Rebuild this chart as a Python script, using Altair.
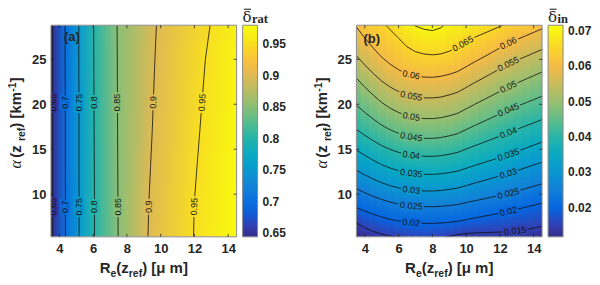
import altair as alt
import pandas as pd

# ---------------- colour map (MATLAB parula, 17 samples) ----------------
PARULA = ["#352a87", "#3243ba", "#0363e1", "#0d75dc", "#1485d4", "#0998d1",
          "#06a7c6", "#15b1b4", "#38b99e", "#65be86", "#92bf73", "#b7bd64",
          "#d9ba56", "#f8bb44", "#fcce2e", "#f5eb18", "#f9fb0e"]

# ---------------- shared axes ----------------
X_DOMAIN = [3.5, 14.5]
Y_DOMAIN = [5.25, 28.8]
X_TICKS = [4, 6, 8, 10, 12, 14]
Y_TICKS = [10, 15, 20, 25]

# ---------------- panel (a): delta_rat ----------------
A_RANGE = [0.644, 0.9805]
A_CB_TICKS = [0.65, 0.7, 0.75, 0.8, 0.85, 0.9, 0.95]
A_LEVELS = [0.65, 0.7, 0.75, 0.8, 0.85, 0.9, 0.95]
A_ROWS_Y = [5.25, 9, 13, 17, 21, 25, 28.8]
A_LINE_X = {
    0.65: [3.60, 3.60, 3.60, 3.60, 3.60, 3.60, 3.60],
    0.7:  [4.36, 4.36, 4.35, 4.35, 4.35, 4.34, 4.34],
    0.75: [5.17, 5.17, 5.16, 5.16, 5.16, 5.15, 5.15],
    0.8:  [6.08, 6.08, 6.07, 6.06, 6.05, 6.04, 6.03],
    0.85: [7.48, 7.47, 7.46, 7.45, 7.44, 7.43, 7.42],
    0.9:  [9.25, 9.30, 9.40, 9.50, 9.58, 9.66, 9.75],
    0.95: [11.95, 11.99, 12.15, 12.32, 12.48, 12.65, 12.93],
}
A_LEFT_EDGE = [0.645, 0.645, 0.645, 0.645, 0.645, 0.645, 0.645]
A_RIGHT_EDGE = [0.980, 0.979, 0.978, 0.976, 0.974, 0.972, 0.968]
A_LABELS = [  # level, x, y, angle
    (0.65, 3.60, 8.6, 270), (0.65, 3.60, 20.2, 270),
    (0.7, 4.36, 8.6, 270), (0.7, 4.35, 20.2, 270),
    (0.75, 5.17, 8.6, 270), (0.75, 5.16, 20.2, 270),
    (0.8, 6.08, 8.6, 270), (0.8, 6.05, 20.2, 270),
    (0.85, 7.47, 8.6, 270), (0.85, 7.44, 20.2, 270),
    (0.9, 9.30, 8.6, 271), (0.9, 9.56, 20.2, 272),
    (0.95, 11.98, 8.6, 272), (0.95, 12.45, 20.2, 274),
]

# ---------------- panel (b): delta_in ----------------
B_RANGE = [0.0118, 0.0716]
B_CB_TICKS = [0.02, 0.03, 0.04, 0.05, 0.06, 0.07]
B_COLS_X = [3.5, 4.0, 4.5, 5.0, 5.5, 6.0, 6.5, 7.0, 7.5, 8.0, 8.5, 9.0,
            9.5, 10.0, 10.5, 11.0, 11.5, 12.0, 12.5, 13.0, 13.5, 14.0, 14.5]
N = None
B_LINES = [  # level, contour height at each column of B_COLS_X
    (0.015, [6.8, 6.25, 5.85, 5.55, 5.35, 5.15, N, N, N, N, 5.05, 5.3,
             5.5, 5.62, 5.68, 5.72, 5.75, 5.78, 5.83, 5.92, 6.05, 6.22, 6.42]),
    (0.02, [8.5, 8.12, 7.77, 7.45, 7.2, 7.01, 6.87, 6.8, 6.76, 6.75, 6.79, 6.87,
            6.98, 7.16, 7.35, 7.53, 7.71, 7.89, 8.08, 8.31, 8.54, 8.77, 9.0]),
    (0.025, [10.6, 10.16, 9.76, 9.4, 9.12, 8.9, 8.74, 8.66, 8.61, 8.6, 8.64, 8.73,
             8.85, 9.06, 9.26, 9.46, 9.66, 9.86, 10.07, 10.34, 10.61, 10.88, 11.15]),
    (0.03, [12.65, 12.14, 11.68, 11.27, 10.95, 10.7, 10.51, 10.42, 10.36, 10.35, 10.41, 10.53,
            10.68, 10.95, 11.23, 11.49, 11.75, 12.03, 12.3, 12.61, 12.93, 13.24, 13.55]),
    (0.035, [14.9, 14.31, 13.77, 13.28, 12.9, 12.61, 12.39, 12.28, 12.21, 12.2, 12.27, 12.4,
             12.57, 12.88, 13.19, 13.48, 13.78, 14.08, 14.39, 14.74, 15.1, 15.45, 15.8]),
    (0.04, [17.2, 16.54, 15.94, 15.4, 14.98, 14.65, 14.41, 14.29, 14.22, 14.2, 14.28, 14.44,
            14.65, 15.02, 15.38, 15.74, 16.09, 16.46, 16.83, 17.2, 17.57, 17.93, 18.3]),
    (0.045, [19.9, 19.09, 18.35, 17.68, 17.16, 16.76, 16.46, 16.31, 16.22, 16.2, 16.3, 16.49,
             16.74, 17.19, 17.63, 18.06, 18.49, 18.93, 19.38, 19.76, 20.14, 20.52, 20.9]),
    (0.05, [22.9, 21.91, 21.01, 20.2, 19.57, 19.08, 18.72, 18.54, 18.42, 18.4, 18.51, 18.72,
            19.0, 19.49, 19.99, 20.47, 20.94, 21.44, 21.93, 22.35, 22.77, 23.18, 23.6]),
    (0.055, [25.4, 24.37, 23.43, 22.58, 21.92, 21.41, 21.03, 20.84, 20.72, 20.7, 20.81, 21.04,
             21.34, 21.87, 22.4, 22.91, 23.42, 23.95, 24.48, 24.89, 25.29, 25.7, 26.1]),
    (0.06, [28.6, 27.37, 26.25, 25.24, 24.46, 23.84, 23.39, 23.17, 23.03, 23.0, 23.11, 23.34,
            23.65, 24.18, 24.71, 25.22, 25.74, 26.27, 26.8, 27.2, 27.6, 28.0, 28.4]),
    (0.065, [N, N, N, 29.3, 28.3, 27.35, 26.4, 25.85, 25.6, 25.5, 25.6, 25.9,
             26.35, 27.0, 27.45, 27.85, 28.25, 28.65, 29.1, N, N, N, N]),
    (0.07, [N, N, N, N, N, N, 29.5, 28.7, 28.35, 28.2, 28.5, 29.3,
            N, N, N, N, N, N, N, N, N, N, N]),
]
B_BOTTOM = [0.0119, 0.0128, 0.0136, 0.0142, 0.0147, 0.0152, 0.0157, 0.0160, 0.0162, 0.0161,
            0.0154, 0.0148, 0.0143, 0.0141, 0.0140, 0.0139, 0.0138, 0.0137, 0.0136, 0.0134,
            0.0131, 0.0128, 0.0125]
B_TOP = [0.0603, 0.0623, 0.0640, 0.0646, 0.0655, 0.0670, 0.0689, 0.0701, 0.0709, 0.0714,
         0.0704, 0.0693, 0.0685, 0.0678, 0.0672, 0.0667, 0.0660, 0.0653, 0.0643, 0.0635,
         0.0626, 0.0617, 0.0609]
B_LABELS = [  # level, x, y, angle
    (0.02, 6.75, 6.83, 4), (0.025, 6.75, 8.70, 5), (0.03, 6.75, 10.46, 6),
    (0.035, 6.75, 12.33, 7), (0.04, 6.75, 14.35, 7), (0.045, 6.75, 16.38, 9),
    (0.05, 6.75, 18.63, 10), (0.055, 6.75, 20.93, 11), (0.06, 6.75, 23.28, 12),
    (0.015, 12.9, 5.90, 354), (0.02, 12.5, 8.08, 347), (0.025, 12.5, 10.07, 346),
    (0.03, 12.5, 12.30, 343), (0.035, 12.5, 14.39, 341), (0.04, 12.5, 16.83, 339),
    (0.045, 12.5, 19.38, 337), (0.05, 12.5, 21.93, 335), (0.055, 12.5, 24.48, 334),
    (0.06, 12.5, 26.80, 334), (0.065, 9.8, 26.74, 331),
]

# ---------------- styling ----------------
W, H = 186, 212
SANS = "Liberation Sans"
SERIF = "Liberation Serif"
INK = "#262626"
FRAME = "#8a8a8a"


def hex_rgb(h):
    return tuple(int(h[i:i + 2], 16) for i in (1, 3, 5))


PAR_RGB = [hex_rgb(h) for h in PARULA]


def cmap(v, rng):
    t = min(max((v - rng[0]) / (rng[1] - rng[0]), 0.0), 1.0)
    s = t * (len(PAR_RGB) - 1)
    i = min(int(s), len(PAR_RGB) - 2)
    f = s - i
    c = [round(PAR_RGB[i][k] + (PAR_RGB[i + 1][k] - PAR_RGB[i][k]) * f) for k in range(3)]
    return "#%02x%02x%02x" % tuple(c)


X_AXIS = alt.Axis(values=X_TICKS, labelFont=SANS, labelFontSize=13, labelFontWeight="bold",
                  labelColor=INK, ticks=False, domain=False, grid=False, labelPadding=6)
Y_AXIS = alt.Axis(values=Y_TICKS, labelFont=SANS, labelFontSize=13, labelFontWeight="bold",
                  labelColor=INK, ticks=False, domain=False, grid=False, labelPadding=5)


def xenc(f):
    return alt.X(f"{f}:Q", scale=alt.Scale(domain=X_DOMAIN, nice=False, zero=False),
                 axis=X_AXIS, title=None)


def yenc(f):
    return alt.Y(f"{f}:Q", scale=alt.Scale(domain=Y_DOMAIN, nice=False, zero=False),
                 axis=Y_AXIS, title=None)


def rect_layer(x0, x1, y0, y1, grad):
    d = pd.DataFrame({"xa": [x0], "xb": [x1], "ya": [y0], "yb": [y1]})
    return alt.Chart(d).mark_rect(fill=grad, strokeWidth=0, clip=True).encode(
        x=xenc("xa"), x2=alt.X2("xb"), y=yenc("ya"), y2=alt.Y2("yb"))


def a_fill():
    layers = []
    n = len(A_ROWS_Y)
    span = X_DOMAIN[1] - X_DOMAIN[0]
    for i, yc in enumerate(A_ROWS_Y):
        y0 = Y_DOMAIN[0] if i == 0 else (A_ROWS_Y[i - 1] + yc) / 2
        y1 = Y_DOMAIN[1] if i == n - 1 else min((yc + A_ROWS_Y[i + 1]) / 2 + 0.15, Y_DOMAIN[1])
        pts = [(X_DOMAIN[0], A_LEFT_EDGE[i])]
        pts += [(A_LINE_X[lev][i], lev) for lev in A_LEVELS]
        pts.append((X_DOMAIN[1], A_RIGHT_EDGE[i]))
        pts.sort()
        stops = [alt.GradientStop(offset=(x - X_DOMAIN[0]) / span, color=cmap(v, A_RANGE))
                 for x, v in pts]
        grad = alt.LinearGradient(gradient="linear", stops=stops, x1=0, x2=1, y1=0, y2=0)
        layers.append(rect_layer(X_DOMAIN[0], X_DOMAIN[1], y0, y1, grad))
    return layers


def b_fill():
    layers = []
    n = len(B_COLS_X)
    span = Y_DOMAIN[1] - Y_DOMAIN[0]
    for i, xc in enumerate(B_COLS_X):
        x0 = X_DOMAIN[0] if i == 0 else (B_COLS_X[i - 1] + xc) / 2
        x1 = X_DOMAIN[1] if i == n - 1 else (xc + B_COLS_X[i + 1]) / 2 + 0.06
        pts = [(Y_DOMAIN[0], B_BOTTOM[i])]
        for lev, ys in B_LINES:
            y = ys[i]
            if y is not None and Y_DOMAIN[0] < y < Y_DOMAIN[1]:
                pts.append((y, lev))
        pts.append((Y_DOMAIN[1], B_TOP[i]))
        pts.sort()
        stops = [alt.GradientStop(offset=(y - Y_DOMAIN[0]) / span, color=cmap(v, B_RANGE))
                 for y, v in pts]
        grad = alt.LinearGradient(gradient="linear", stops=stops, x1=0, x2=0, y1=1, y2=0)
        layers.append(rect_layer(x0, x1, Y_DOMAIN[0], Y_DOMAIN[1], grad))
    return layers


def a_lines_df():
    rows = []
    for lev in A_LEVELS:
        for i, y in enumerate(A_ROWS_Y):
            rows.append({"x": A_LINE_X[lev][i], "y": y, "seg": str(lev), "ord": i})
    return pd.DataFrame(rows)


def b_lines_df():
    rows = []
    seg = 0
    for lev, ys in B_LINES:
        seg += 1
        prev = False
        for i, y in enumerate(ys):
            if y is None:
                if prev:
                    seg += 1
                prev = False
                continue
            rows.append({"x": B_COLS_X[i], "y": y, "seg": f"s{seg}", "ord": i})
            prev = True
    return pd.DataFrame(rows)


def labels_df(labels):
    return pd.DataFrame([{"lev": lev, "x": x, "y": y, "ang": a, "txt": f"{lev:g}"}
                         for lev, x, y, a in labels])


BOLD_W = {'R': .722, 'e': .556, '(': .333, 'z': .5, 'r': .389, 'f': .333, ')': .333,
          ' ': .278, '[': .333, 'μ': .611, 'm': .889, ']': .333, 'k': .556, '-': .333,
          '1': .556, 'α': .68}


def tw(s, size):
    return sum(BOLD_W.get(c, .55) for c in s) * size


def txt(s, x, y, size, font=SANS, weight="normal", style="normal", angle=0):
    kw = dict(font=font, fontSize=size, fontWeight=weight, fontStyle=style,
              align="left", baseline="alphabetic", color=INK)
    if angle:
        kw["angle"] = angle
    return alt.Chart(pd.DataFrame({"t": [s]})).mark_text(**kw).encode(
        x=alt.value(x), y=alt.value(y), text="t:N")


def axis_titles():
    out = []
    # x title  R_e(z_ref) [μ m]
    parts = [("R", 15, 0), ("e", 10.5, 4), ("(z", 15, 0), ("ref", 10.5, 4), (") [μ m]", 15, 0)]
    total = sum(tw(s, fs) for s, fs, _ in parts)
    cx = W / 2 - total / 2
    for s, fs, dy in parts:
        out.append(txt(s, cx, H + 36 + dy, fs, weight="bold"))
        cx += tw(s, fs)
    # y title  α (z_ref) [km^-1]  (rotated)
    parts = [("α", 16, 0, SERIF, "italic", "normal"), (" (z", 15, 0, SANS, "normal", "bold"),
             ("ref", 10.5, 4, SANS, "normal", "bold"), (") [km", 15, 0, SANS, "normal", "bold"),
             ("-1", 10.5, -5, SANS, "normal", "bold"), ("]", 15, 0, SANS, "normal", "bold")]
    total = sum(tw(p[0], p[1]) for p in parts)
    cy = H / 2 - 8 + total / 2
    for s, fs, dx, font, style, weight in parts:
        out.append(txt(s, -29.5 + dx, cy, fs, font=font, style=style, weight=weight, angle=270))
        cy -= tw(s, fs)
    return out


def tick_layers():
    xt = pd.DataFrame({"t": X_TICKS})
    yt = pd.DataFrame({"t": Y_TICKS})
    rule = dict(color=INK, strokeWidth=0.8)
    return [
        alt.Chart(xt).mark_rule(**rule).encode(x=xenc("t"), y=alt.value(H), y2=alt.value(H - 3)),
        alt.Chart(xt).mark_rule(**rule).encode(x=xenc("t"), y=alt.value(0), y2=alt.value(3)),
        alt.Chart(yt).mark_rule(**rule).encode(y=yenc("t"), x=alt.value(0), x2=alt.value(3)),
        alt.Chart(yt).mark_rule(**rule).encode(y=yenc("t"), x=alt.value(W), x2=alt.value(W - 3)),
    ]


def colorbar_title(sub):
    delta = txt("δ", W + 6, -3.5, 15, font="DejaVu Serif")
    bar = alt.Chart(pd.DataFrame({"t": [0]})).mark_rule(color=INK, strokeWidth=1.1).encode(
        x=alt.value(W + 7.5), x2=alt.value(W + 14.5), y=alt.value(-16))
    subtxt = txt(sub, W + 15.5, -2.5, 12.5, font=SERIF, weight="bold")
    return [delta, bar, subtxt]


def panel(fill_layers, lines, labels, rng, cb_ticks, tag, tag_xy, sub):
    dom = [rng[0] + (rng[1] - rng[0]) * k / (len(PARULA) - 1) for k in range(len(PARULA))]
    legend = alt.Legend(title=None, orient="right", offset=6, type="gradient",
                        direction="vertical", gradientLength=H, gradientThickness=15,
                        values=cb_ticks, format=".2~f", labelFont=SANS, labelFontSize=12,
                        labelFontWeight="bold", labelColor=INK, labelOffset=5,
                        gradientStrokeColor=FRAME, gradientStrokeWidth=1, padding=0)
    line_layer = alt.Chart(lines).mark_line(color="#111111", strokeWidth=0.8, clip=True).encode(
        x=xenc("x"), y=yenc("y"), detail="seg:N", order="ord:Q")
    halo = alt.Chart(labels).mark_text(font=SANS, fontSize=9, strokeWidth=4, clip=True,
                                       align="center", baseline="middle").encode(
        x=xenc("x"), y=yenc("y"), text="txt:N", angle=alt.Angle("ang:Q", scale=None),
        stroke=alt.Stroke("lev:Q", scale=alt.Scale(domain=dom, range=PARULA, interpolate="rgb"),
                          legend=legend))
    lab = alt.Chart(labels).mark_text(font=SANS, fontSize=9, color="#151515", clip=True,
                                      align="center", baseline="middle").encode(
        x=xenc("x"), y=yenc("y"), text="txt:N", angle=alt.Angle("ang:Q", scale=None))
    frame = alt.Chart(pd.DataFrame({"xa": [X_DOMAIN[0]], "xb": [X_DOMAIN[1]],
                                    "ya": [Y_DOMAIN[0]], "yb": [Y_DOMAIN[1]]})).mark_rect(
        fillOpacity=0, stroke=FRAME, strokeWidth=1).encode(
        x=xenc("xa"), x2=alt.X2("xb"), y=yenc("ya"), y2=alt.Y2("yb"))
    tag_layer = txt(tag, tag_xy[0], tag_xy[1], 13, weight="bold")
    layers = fill_layers + [line_layer, halo, lab, frame] + tick_layers() + [tag_layer] \
        + axis_titles() + colorbar_title(sub)
    return alt.layer(*layers).properties(width=W, height=H)


panel_a = panel(a_fill(), a_lines_df(), labels_df(A_LABELS), A_RANGE, A_CB_TICKS,
                "(a)", (13, 16), "rat")
panel_b = panel(b_fill(), b_lines_df(), labels_df(B_LABELS), B_RANGE, B_CB_TICKS,
                "(b)", (7, 18), "in")

chart = alt.hconcat(panel_a, panel_b, spacing=27).resolve_scale(
    stroke="independent").resolve_legend(stroke="independent").properties(
    padding={"left": 0, "right": 0, "top": 0, "bottom": 0}).configure_view(
    strokeWidth=0).configure_legend(gradientVerticalMaxLength=H)

chart.save("out.html", embed_options={"renderer": "svg", "actions": False})
